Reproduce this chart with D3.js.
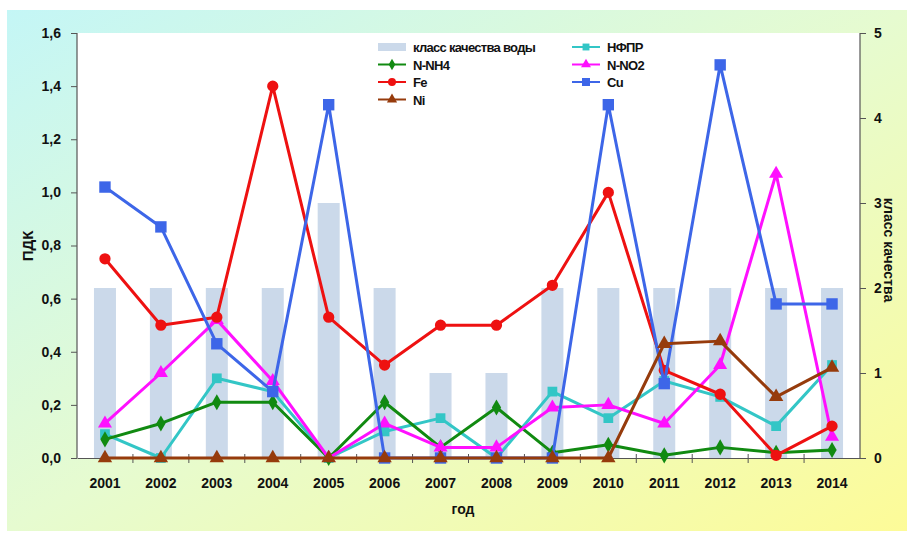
<!DOCTYPE html>
<html><head><meta charset="utf-8">
<script src="https://cdn.jsdelivr.net/npm/d3@7"></script>
<style>body{margin:0;background:#fff}svg{display:block}text{font-family:Arial,"Liberation Sans",sans-serif;font-weight:bold;fill:#111}</style>
</head><body><svg id="c" width="907" height="533"></svg>
<script>
const years = ["2001","2002","2003","2004","2005","2006","2007","2008","2009","2010","2011","2012","2013","2014"];
const qualityClass = [2,2,2,2,3,2,1,1,2,2,2,2,2,2];
const nfpr = [0.09,0.0,0.30,0.25,0.0,0.10,0.15,0.0,0.25,0.15,0.29,0.23,0.12,0.35];
const nnh4 = [0.07,0.13,0.21,0.21,0.0,0.21,0.04,0.19,0.02,0.05,0.01,0.04,0.02,0.03];
const nno2 = [0.13,0.32,0.52,0.29,0.0,0.13,0.04,0.04,0.19,0.20,0.13,0.35,1.07,0.08];
const fe   = [0.75,0.50,0.53,1.40,0.53,0.35,0.50,0.50,0.65,1.00,0.33,0.24,0.01,0.12];
const cu   = [1.02,0.87,0.43,0.25,1.33,0.0,0.0,0.0,0.0,1.33,0.28,1.48,0.58,0.58];
const ni   = [0,0,0,0,0,0,0,0,0,0,0.43,0.44,0.23,0.34];
const leftTicks = [0,0.2,0.4,0.6,0.8,1.0,1.2,1.4,1.6];
const rightTicks = [0,1,2,3,4,5];

const series = [
  {name:"НФПР", values:nfpr, color:"#33c6c6", sym:d3.symbolSquare, size:95},
  {name:"N-NH4", values:nnh4, color:"#118a11", sym:d3.symbolDiamond, size:75},
  {name:"N-NO2", values:nno2, color:"#ff10ff", sym:d3.symbolTriangle, size:85},
  {name:"Fe", values:fe, color:"#ee1111", sym:d3.symbolCircle, size:100},
  {name:"Cu", values:cu, color:"#3d66e8", sym:d3.symbolSquare, size:130},
  {name:"Ni", values:ni, color:"#963b0c", sym:d3.symbolTriangle, size:90}
];

const svg = d3.select("#c");
const defs = svg.append("defs");
const g = defs.append("linearGradient").attr("id","bg").attr("x1","0").attr("y1","0").attr("x2","1").attr("y2","1");
g.append("stop").attr("offset","0").attr("stop-color","#c4f6f6");
g.append("stop").attr("offset","0.5").attr("stop-color","#e6fbd0");
g.append("stop").attr("offset","1").attr("stop-color","#fdfb98");
svg.append("rect").attr("x",7).attr("y",10).attr("width",900).attr("height",521).attr("fill","url(#bg)");

const L=77,R=860,T=33,B=458;
svg.append("rect").attr("x",L).attr("y",T).attr("width",R-L).attr("height",B-T).attr("fill","#fff");

const x = d3.scaleBand().domain(years).range([L,R]).padding(0);
const yL = d3.scaleLinear().domain([0,1.6]).range([B,T]);
const yR = d3.scaleLinear().domain([0,5]).range([B,T]);
const cx = d => x(d)+x.bandwidth()/2;

// bars
svg.append("g").selectAll("rect").data(years).join("rect")
  .attr("x",d=>cx(d)-11).attr("width",22)
  .attr("y",(d,i)=>yR(qualityClass[i])).attr("height",(d,i)=>B-yR(qualityClass[i]))
  .attr("fill","#cbd9ea");

// axes
const axL = svg.append("g").attr("transform",`translate(${L},0)`)
  .call(d3.axisLeft(yL).tickValues(leftTicks).tickSize(6).tickPadding(10).tickFormat(d=>d3.format(".1f")(d).replace(".",",")));
const axR = svg.append("g").attr("transform",`translate(${R},0)`)
  .call(d3.axisRight(yR).tickValues(rightTicks).tickSize(6).tickPadding(8).tickFormat(d3.format("d")));
[axL,axR].forEach(a=>{a.select(".domain").attr("stroke","#555").attr("stroke-width",1.2);a.selectAll(".tick line").attr("stroke","#555");a.selectAll("text").attr("font-size",14).attr("font-family","Arial,'Liberation Sans',sans-serif").attr("font-weight","bold").attr("fill","#111");});
axR.select(".domain").attr("d",`M0,${T}V${B}`);
axL.select(".domain").attr("d",`M0,${T}V${B}`);

// x axis
const axX = svg.append("g").attr("transform",`translate(0,${B})`)
  .call(d3.axisBottom(x).tickSize(0).tickPadding(20));
axX.select(".domain").attr("stroke","#555").attr("stroke-width",1.2);
axX.selectAll("text").attr("font-size",14).attr("font-family","Arial,'Liberation Sans',sans-serif").attr("font-weight","bold").attr("fill","#111");
svg.append("g").selectAll("line").data(years.slice(1)).join("line")
  .attr("x1",d=>x(d)).attr("x2",d=>x(d)).attr("y1",B-4).attr("y2",B+5).attr("stroke","#555");

// lines
const line = d3.line().x((d,i)=>cx(years[i])).y(d=>yL(d));
series.forEach(s=>{
  const gg = svg.append("g");
  gg.append("path").attr("d",line(s.values)).attr("fill","none").attr("stroke",s.color).attr("stroke-width",3).attr("stroke-linejoin","round");
  gg.selectAll("path.m").data(s.values).join("path").attr("class","m")
    .attr("transform",(d,i)=>`translate(${cx(years[i])},${yL(d)})`)
    .attr("d",d3.symbol().type(s.sym).size(s.size)).attr("fill",s.color);
});

// titles
svg.append("text").attr("transform","translate(33,246) rotate(-90)").attr("text-anchor","middle").attr("font-size",15).text("ПДК");
svg.append("text").attr("transform","translate(884,250) rotate(90)").attr("text-anchor","middle").attr("font-size",14).text("класс качества");
svg.append("text").attr("x",463).attr("y",514).attr("text-anchor","middle").attr("font-size",14).text("год");

// legend
const leg = svg.append("g");
const legendItems = [
  {name:"класс качества воды", bar:true, col:0,row:0},
  {s:series[1],col:0,row:1},{s:series[3],col:0,row:2},{s:series[5],col:0,row:3},
  {s:series[0],col:1,row:0},{s:series[2],col:1,row:1},{s:series[4],col:1,row:2}
];
legendItems.forEach(it=>{
  const x0 = it.col===0?378:572, y0 = 47+it.row*17.5;
  if(it.bar){
    leg.append("rect").attr("x",x0).attr("y",y0-4).attr("width",28).attr("height",8).attr("fill","#cbd9ea");
  } else {
    leg.append("line").attr("x1",x0).attr("x2",x0+28).attr("y1",y0).attr("y2",y0).attr("stroke",it.s.color).attr("stroke-width",2);
    leg.append("path").attr("transform",`translate(${x0+14},${y0})`).attr("d",d3.symbol().type(it.s.sym).size(it.s.size*0.5)).attr("fill",it.s.color);
  }
  leg.append("text").attr("x",x0+35).attr("y",y0+5).attr("font-size",13).attr("letter-spacing",-0.7)
    .text(it.bar?it.name:it.s.name);
});
</script></body></html>
